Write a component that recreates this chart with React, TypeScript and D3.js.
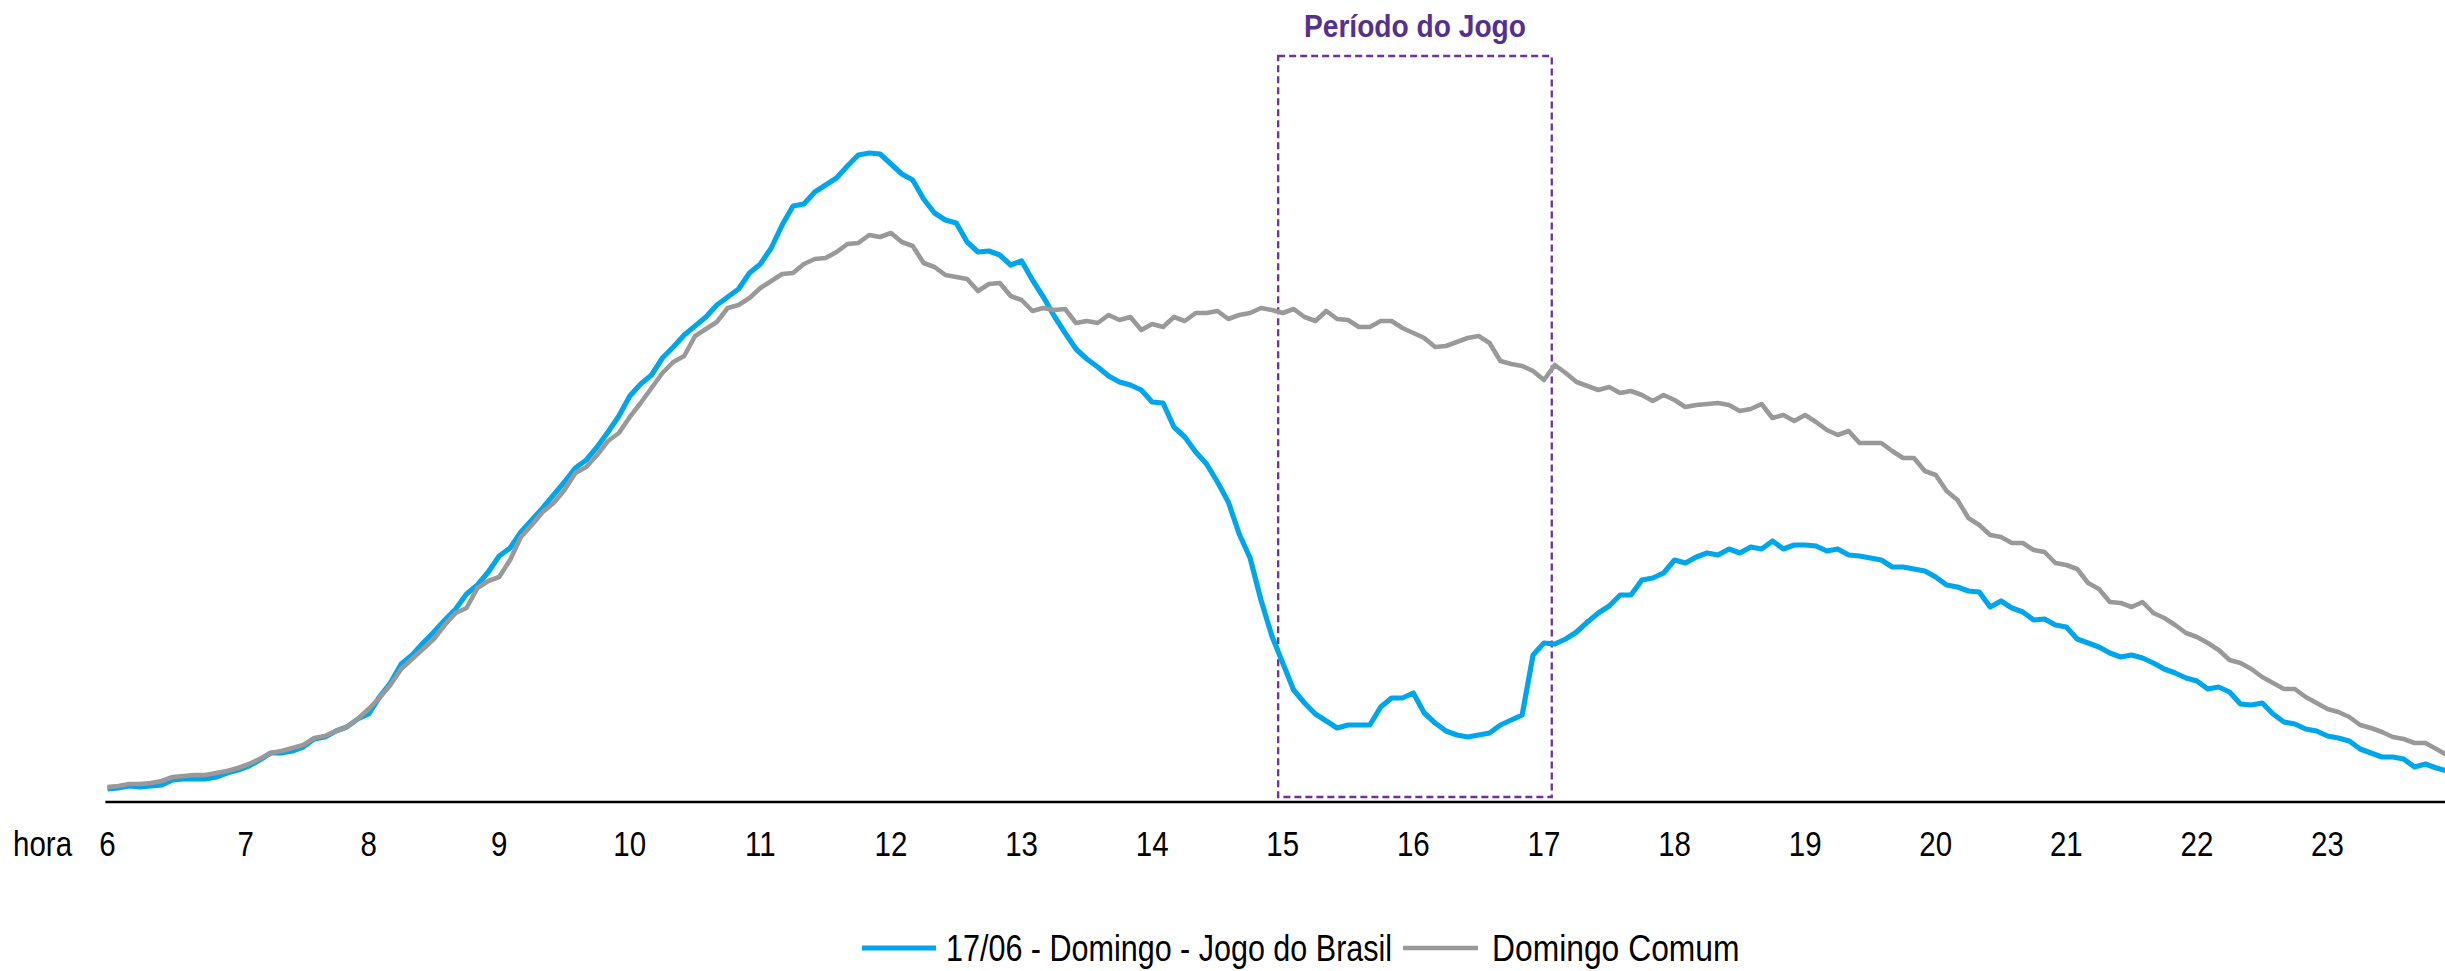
import React from "react";
import * as d3 from "d3";

// ---- data (5-minute readings from 06:00 to 23:55) ----
const jogoBrasil: number[] = [
  1.3, 1.4, 1.6, 1.5, 1.6, 1.7, 2.2, 2.3, 2.3, 2.3,
  2.5, 2.9, 3.2, 3.6, 4.2, 4.9, 4.9, 5.1, 5.5, 6.3,
  6.5, 7.1, 7.5, 8.3, 8.8, 10.5, 11.9, 13.8, 14.7, 15.9,
  17.0, 18.2, 19.3, 20.8, 21.7, 23.0, 24.6, 25.4, 27.0, 28.2,
  29.4, 30.7, 32.0,
  33.4, 34.2, 35.5, 37.0, 38.6, 40.6, 41.8, 42.7, 44.4, 45.5, 46.7, 47.6, 48.5, 49.7, 50.5, 51.3, 52.9, 53.8, 55.4, 57.7,
  59.6, 59.8, 61.0, 61.7, 62.4, 63.6, 64.7, 64.9, 64.8, 63.8, 62.8, 62.2, 60.3, 58.9, 58.2, 57.9, 56.0, 55.0, 55.1, 54.7,
  53.7, 54.1, 52.2,
  50.5, 48.6, 46.9, 45.3, 44.3, 43.5, 42.6, 42.0, 41.7, 41.2, 40.0, 39.9, 37.5, 36.5, 35.0, 33.8, 32.0, 30.0, 26.8, 24.4,
  20.2, 16.6, 13.9, 11.2, 9.9, 8.8, 8.1, 7.4, 7.7, 7.7, 7.7, 9.5, 10.4, 10.4, 10.9, 8.9, 7.9, 7.1, 6.7, 6.5,
  6.7, 6.9, 7.7,
  8.2, 8.7, 14.7, 15.9, 15.8, 16.3, 17.0, 18.0, 18.9, 19.6, 20.7, 20.7, 22.2, 22.4, 22.9, 24.2, 23.9, 24.5, 24.9, 24.7,
  25.3, 24.9, 25.5, 25.3, 26.1, 25.3, 25.7, 25.7, 25.6, 25.1, 25.3, 24.7, 24.6, 24.4, 24.2, 23.5, 23.5, 23.3, 23.1, 22.5,
  21.7, 21.5, 21.1,
  21.0, 19.5, 20.1, 19.4, 19.0, 18.2, 18.3, 17.7, 17.5, 16.3, 15.9, 15.5, 14.9, 14.5, 14.7, 14.4, 13.9, 13.3, 12.9, 12.4,
  12.1, 11.3, 11.5, 11.0, 9.8, 9.7, 9.9, 8.8, 8.0, 7.8, 7.3, 7.1, 6.6, 6.4, 6.1, 5.3, 4.9, 4.5, 4.5, 4.3,
  3.5, 3.8, 3.4, 3.1,
];

const domingoComum: number[] = [
  1.5, 1.6, 1.8, 1.8, 1.9, 2.1, 2.5, 2.6, 2.7, 2.7,
  2.9, 3.1, 3.4, 3.8, 4.3, 4.9, 5.1, 5.4, 5.7, 6.4,
  6.6, 7.1, 7.5, 8.3, 9.3, 10.4, 11.7, 13.3, 14.3, 15.3,
  16.3, 17.7, 18.9, 19.4, 21.4, 22.1, 22.5, 24.2, 26.5, 27.7,
  29.0, 29.9, 31.2,
  32.9, 33.5, 34.7, 36.1, 36.9, 38.5, 39.9, 41.4, 42.9, 44.0, 44.6, 46.6, 47.3, 48.0, 49.4, 49.7, 50.4, 51.4, 52.1, 52.8,
  52.9, 53.8, 54.3, 54.4, 55.0, 55.8, 55.9, 56.7, 56.5, 56.9, 56.0, 55.6, 53.9, 53.5, 52.7, 52.5, 52.3, 51.1, 51.8, 51.9,
  50.6, 50.2, 49.1,
  49.4, 49.2, 49.3, 47.9, 48.1, 47.9, 48.7, 48.2, 48.5, 47.2, 47.8, 47.5, 48.5, 48.1, 48.9, 48.9, 49.1, 48.3, 48.7, 48.9,
  49.4, 49.2, 48.9, 49.3, 48.5, 48.1, 49.1, 48.3, 48.2, 47.5, 47.5, 48.1, 48.1, 47.4, 46.9, 46.4, 45.5, 45.6, 46.0, 46.4,
  46.6, 45.9, 44.1,
  43.8, 43.6, 43.1, 42.2, 43.7, 42.9, 42.0, 41.6, 41.2, 41.5, 40.9, 41.1, 40.7, 40.1, 40.7, 40.2, 39.5, 39.7, 39.8, 39.9,
  39.7, 39.1, 39.3, 39.8, 38.4, 38.7, 38.1, 38.7, 38.0, 37.2, 36.7, 37.1, 35.9, 35.9, 35.9, 35.1, 34.4, 34.4, 33.1, 32.7,
  31.1, 30.2, 28.4,
  27.7, 26.7, 26.5, 25.9, 25.9, 25.2, 25.0, 23.9, 23.7, 23.3, 21.9, 21.3, 20.0, 19.9, 19.5, 20.0, 18.9, 18.4, 17.7, 16.9,
  16.5, 15.9, 15.2, 14.2, 13.9, 13.3, 12.5, 11.9, 11.3, 11.3, 10.5, 9.9, 9.3, 9.0, 8.5, 7.7, 7.4, 7.0, 6.5, 6.3,
  5.9, 5.9, 5.3, 4.7,
];

const times: number[] = d3.range(jogoBrasil.length).map((i) => 6 + i / 12);

const tickLabels: string[] = ["6", "7", "8", "9", "10", "11", "12", "13", "14", "15", "16", "17", "18", "19", "20", "21", "22", "23"];
const tickHours: number[] = [6, 7.06, 8, 9, 10, 11, 12, 13, 14, 15, 16, 17, 18, 19, 20, 21, 22, 23];

const seriesNames: string[] = ["17/06 - Domingo - Jogo do Brasil", "Domingo Comum"];
const gamePeriod: number[] = [14.965, 17.06];
const gameTitle = "Período do Jogo";
const axisTitle = "hora";

const W = 2445;
const H = 971;
const BLUE = "#00a6eb";
const GRAY = "#999999";
const PURPLE = "#7030a0";

export default function App() {
  const x = d3.scaleLinear().domain([6, 24]).range([107.4, 2458.1]);
  const y = d3.scaleLinear().domain([0, 65]).range([802, 152]);

  const line = d3
    .line<number>()
    .x((_, i) => x(times[i]))
    .y((d) => y(d))
    .curve(d3.curveLinear);

  const boxX0 = x(gamePeriod[0]);
  const boxX1 = x(gamePeriod[1]);
  const boxTop = y(74.6);
  const boxBottom = y(0.5);

  const font = "'Liberation Sans', Arial, sans-serif";

  return (
    <div style={{ position: "absolute", left: 0, top: 0 }}>
      <svg width={W} height={H} style={{ display: "block", background: "#fff" }}>
        <rect x={0} y={0} width={W} height={H} fill="#fff" />
        {/* game period box */}
        <rect
          x={boxX0}
          y={boxTop}
          width={boxX1 - boxX0}
          height={boxBottom - boxTop}
          fill="none"
          stroke={PURPLE}
          strokeWidth={2.3}
          strokeDasharray="7 4"
        />
        <g transform={`translate(${(boxX0 + boxX1) / 2},37) scale(0.88,1)`}>
          <text x={0} y={0} textAnchor="middle" fontFamily={font} fontWeight="bold" fontSize={32} fill="#54318f">
            {gameTitle}
          </text>
        </g>

        {/* lines */}
        <path d={line(jogoBrasil) || ""} fill="none" stroke={BLUE} strokeWidth={5.2} strokeLinejoin="round" />
        <path d={line(domingoComum) || ""} fill="none" stroke={GRAY} strokeWidth={4.6} strokeLinejoin="round" />

        {/* x axis */}
        <line x1={x(6) - 2} x2={W} y1={802} y2={802} stroke="#000" strokeWidth={2.6} />
        <g transform={`translate(13,856) scale(0.82,1)`}>
          <text x={0} y={0} fontFamily={font} fontSize={36} fill="#000">
            {axisTitle}
          </text>
        </g>
        {tickLabels.map((t, i) => (
          <g key={t} transform={`translate(${x(tickHours[i])},856) scale(0.82,1)`}>
            <text x={0} y={0} textAnchor="middle" fontFamily={font} fontSize={36} fill="#000">
              {t}
            </text>
          </g>
        ))}

        {/* legend */}
        <line x1={862} x2={936} y1={948} y2={948} stroke={BLUE} strokeWidth={5.2} />
        <g transform={`translate(946,961) scale(0.825,1)`}>
          <text x={0} y={0} fontFamily={font} fontSize={37} fill="#000">
            {seriesNames[0]}
          </text>
        </g>
        <line x1={1403} x2={1478} y1={948} y2={948} stroke={GRAY} strokeWidth={4.6} />
        <g transform={`translate(1492,961) scale(0.86,1)`}>
          <text x={0} y={0} fontFamily={font} fontSize={37} fill="#000">
            {seriesNames[1]}
          </text>
        </g>
      </svg>
    </div>
  );
}
